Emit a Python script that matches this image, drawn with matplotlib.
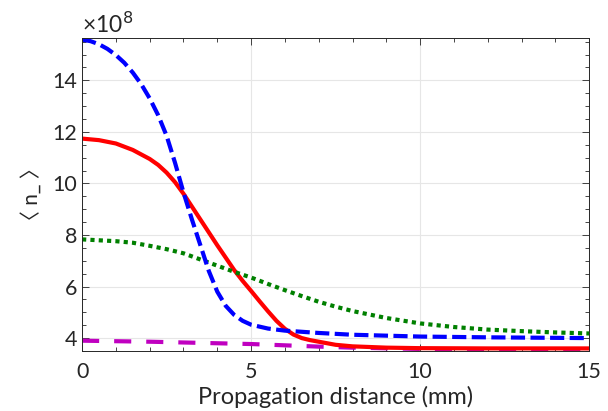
import numpy as np
import matplotlib
matplotlib.use("Agg")
from matplotlib import pyplot as plt
from matplotlib.ticker import MultipleLocator

plt.rcParams['font.family'] = ['Lato', 'Noto Sans CJK SC', 'DejaVu Sans']

# values (units of 1e8)
x_red = [0, 0.5, 1, 1.5, 2, 2.25, 2.5, 2.75, 3, 3.25, 3.5, 3.75, 4, 4.25, 4.5, 4.75, 5, 5.25, 5.5,
         5.75, 6, 6.25, 6.5, 6.75, 7, 7.5, 8, 9, 10, 12, 15]
y_red = [11.74, 11.68, 11.55, 11.3, 10.95, 10.72, 10.42, 10.05, 9.6, 9.1, 8.6, 8.1, 7.6, 7.12, 6.64,
         6.22, 5.83, 5.43, 5.04, 4.67, 4.36, 4.14, 4.0, 3.92, 3.86, 3.74, 3.68, 3.63, 3.61, 3.6, 3.6]

x_blue = [0, 0.25, 0.5, 0.75, 1, 1.25, 1.5, 1.75, 2, 2.25, 2.5, 2.75, 3, 3.25, 3.5, 3.75, 4, 4.25,
          4.5, 4.75, 5, 5.5, 6, 7, 8, 10, 12, 15]
y_blue = [15.58, 15.52, 15.4, 15.22, 14.98, 14.68, 14.3, 13.85, 13.3, 12.65, 11.85, 10.8, 9.65, 8.6,
          7.6, 6.6, 5.8, 5.25, 4.9, 4.67, 4.52, 4.37, 4.29, 4.2, 4.13, 4.06, 4.03, 4.0]

x_green = [0, 1, 1.5, 2, 2.5, 3, 3.5, 4, 4.5, 5, 5.5, 6, 6.5, 7, 7.5, 8, 9, 10, 11, 12, 13, 14, 15]
y_green = [7.83, 7.76, 7.7, 7.58, 7.45, 7.29, 7.05, 6.81, 6.57, 6.35, 6.1, 5.86, 5.63, 5.41, 5.22,
           5.05, 4.78, 4.57, 4.43, 4.33, 4.27, 4.22, 4.18]

x_mag = [0, 2, 4, 5, 6, 7, 8, 10, 12, 15]
y_mag = [3.9, 3.86, 3.8, 3.77, 3.72, 3.67, 3.63, 3.58, 3.55, 3.52]

fig = plt.figure(figsize=(6.08, 4.11), dpi=100)
ax = fig.add_axes([0.135, 0.146, 0.834, 0.762])

lw = 3.0
ax.plot(x_mag, np.array(y_mag) * 1e8, color='#c000c0', lw=lw, dashes=(4.1, 3.6))
ax.plot(x_red, np.array(y_red) * 1e8, color='red', lw=lw)
ax.plot(x_green, np.array(y_green) * 1e8, color='green', lw=lw, dashes=(1, 1))
ax.plot(x_blue, np.array(y_blue) * 1e8, color='blue', lw=lw, dashes=(3.4, 1.3))

ax.set_xlim(0, 15)
ax.set_ylim(3.5e8, 15.65e8)
ax.set_xticks([0, 5, 10, 15])
ax.set_yticks(np.arange(4, 15, 2) * 1e8)
ax.set_yticklabels([str(v) for v in range(4, 15, 2)])
ax.xaxis.set_minor_locator(MultipleLocator(1))
ax.yaxis.set_minor_locator(MultipleLocator(0.5e8))
ax.tick_params(which='both', direction='in', top=True, right=True, colors='#262626',
               labelsize=15.5, labelcolor='#262626')
ax.tick_params(which='major', length=5, width=0.6)
ax.tick_params(which='minor', length=3, width=0.6)
ax.tick_params(axis='x', pad=8)
ax.grid(True, which='major', color='#e6e6e6', lw=0.8)
ax.set_axisbelow(True)
for s in ax.spines.values():
    s.set_color('#262626')
    s.set_linewidth(0.7)

ax.text(0, 1.003, '\u00d710$^{8}$', transform=ax.transAxes, fontsize=16.5,
        color='#262626', ha='left', va='bottom')
ax.set_xlabel('Propagation distance (mm)', fontsize=17, color='#262626', labelpad=3)
ax.set_ylabel('\u3008 n_ \u3009', fontsize=15, color='#262626', labelpad=8)

fig.savefig('out.png', dpi=100)
